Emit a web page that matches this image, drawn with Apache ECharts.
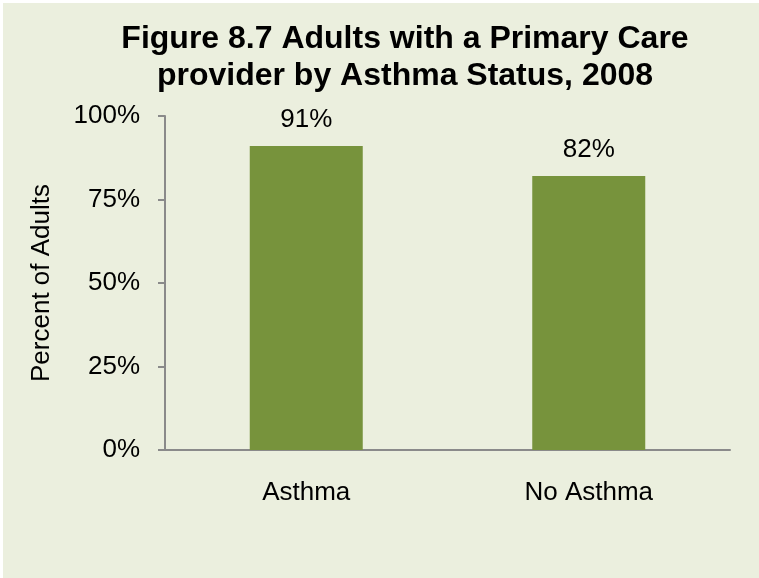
<!DOCTYPE html>
<html><head><meta charset="utf-8">
<script src="https://cdn.jsdelivr.net/npm/echarts@6/dist/echarts.min.js"></script>
<style>html,body{margin:0;padding:0;background:#ffffff;}#c{position:absolute;left:3px;top:3px;width:756px;height:575px;}</style>
</head><body><div id="c"></div>
<script>
const titleText = "Figure 8.7 Adults with a Primary Care\nprovider by Asthma Status, 2008";
const categories = ["Asthma", "No Asthma"];
const values = [91, 82];
const valueLabels = ["91%", "82%"];
const yTicks = [0, 25, 50, 75, 100];
const yAxisName = "Percent of Adults";

const chart = echarts.init(document.getElementById('c'), null, {renderer: 'canvas'});
const font = 'Liberation Sans, Arial, sans-serif';
chart.setOption({
  backgroundColor: '#EBEFDE',
  animation: false,
  title: {
    text: titleText, left: 397, top: 13, textAlign: 'center',
    textStyle: {fontFamily: font, fontSize: 32, fontWeight: 'bold', color: '#000', lineHeight: 37}
  },
  grid: {left: 162, right: 29, top: 113, bottom: 128, containLabel: false},
  xAxis: {
    type: 'category', data: categories,
    axisLine: {lineStyle: {color: '#8A8A8A', width: 2}},
    axisTick: {show: false},
    axisLabel: {fontFamily: font, fontSize: 26, color: '#000', margin: 30}
  },
  yAxis: {
    type: 'value', min: 0, max: 100, interval: 25,
    name: yAxisName, nameLocation: 'middle', nameGap: 110, nameRotate: 90,
    nameTextStyle: {fontFamily: font, fontSize: 26, color: '#000'},
    axisLine: {show: true, lineStyle: {color: '#8A8A8A', width: 2}},
    axisTick: {show: true, length: 7, lineStyle: {color: '#8A8A8A', width: 2}},
    splitLine: {show: false},
    axisLabel: {fontFamily: font, fontSize: 26, color: '#000', margin: 25,
      formatter: v => yTicks.includes(v) ? v + '%' : ''}
  },
  series: [{
    type: 'bar', data: values, barWidth: '40%',
    itemStyle: {color: '#77933C'},
    label: {show: true, position: 'top', distance: 13, fontFamily: font, fontSize: 26, color: '#000',
      formatter: p => valueLabels[p.dataIndex]}
  }]
});
</script></body></html>
